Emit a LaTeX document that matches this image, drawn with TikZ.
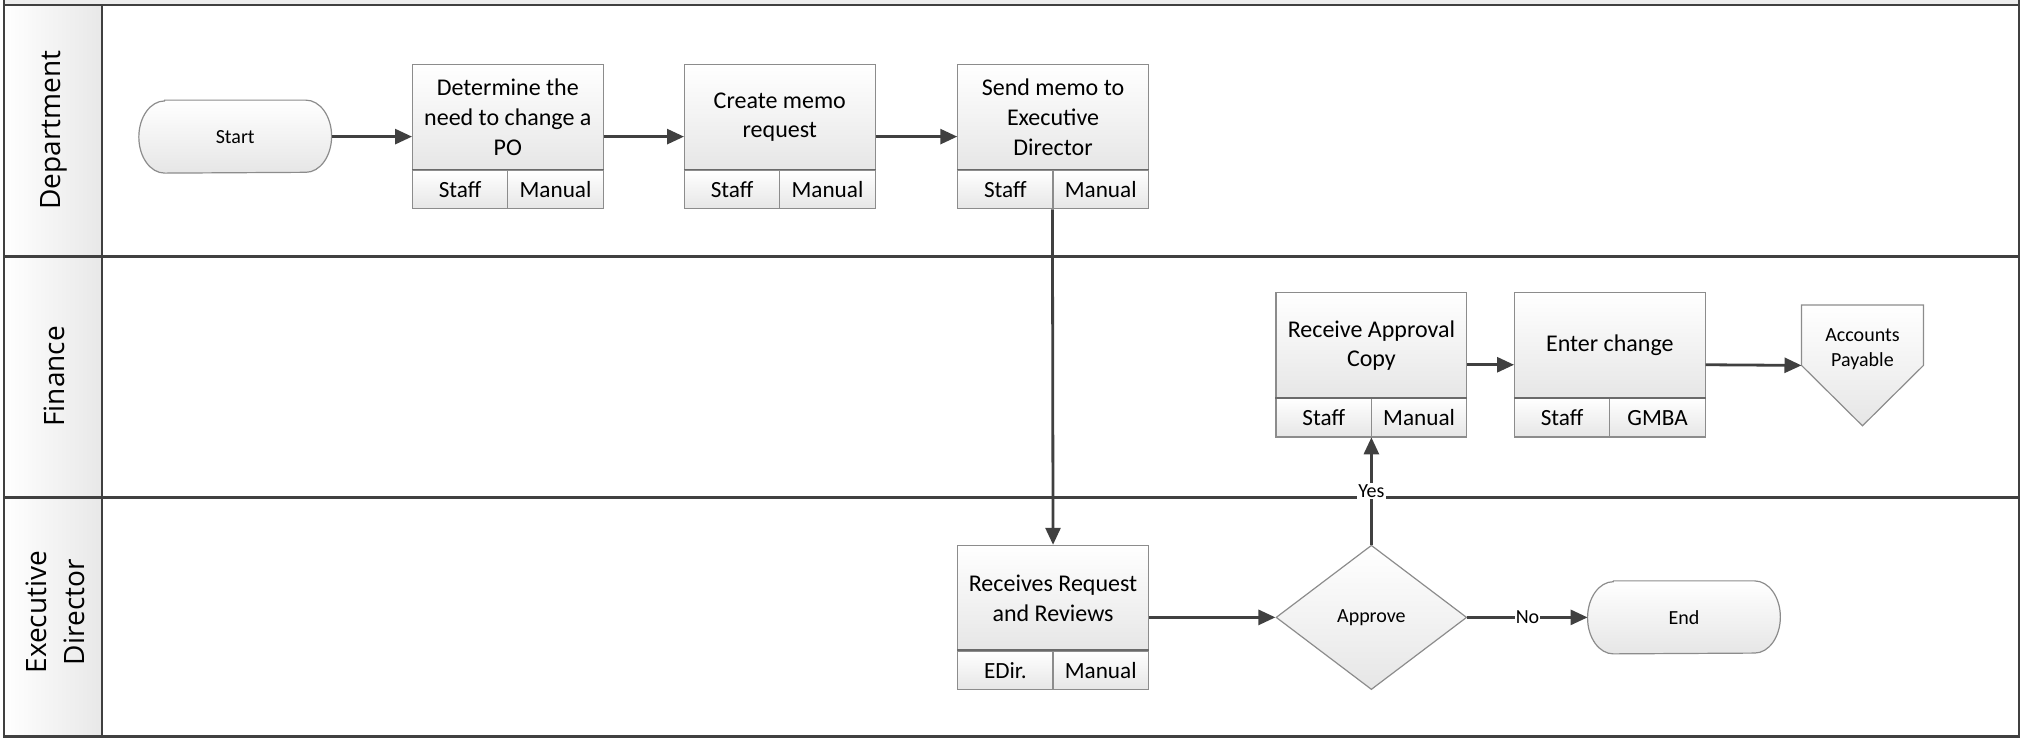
\documentclass[tikz,border=0pt]{standalone}
\usepackage{fontspec}
\setmainfont{Carlito}
\newfontfamily\lanefont{Open Sans}
\usetikzlibrary{arrows.meta,shapes.geometric}
\definecolor{lanec}{HTML}{404040}
\definecolor{boxc}{HTML}{8C8C8C}
\definecolor{divc}{HTML}{6A6A6A}
\definecolor{arrc}{HTML}{404040}
\definecolor{boxbot}{HTML}{E6E6E6}
\definecolor{hdrr}{HTML}{E8E8E8}
\pgfdeclarelayer{bg}
\pgfsetlayers{bg,main}
\tikzset{
  lane/.style={draw=lanec,line width=1.3pt},
  hdr/.style={left color=white,right color=hdrr},
  lanelabel/.style={rotate=90,font=\lanefont\fontsize{14}{18.7}\selectfont,text=black,align=center},
  proc/.style={rectangle,draw=boxc,line width=0.6pt,top color=white,bottom color=boxbot,
    minimum width=95.4pt,minimum height=52.85pt,inner sep=0pt,align=center,
    font=\fontsize{12}{14.8}\selectfont},
  cell/.style={rectangle,draw=boxc,line width=0.6pt,top color=white,bottom color=boxbot,
    minimum width=47.7pt,minimum height=19.3pt,inner sep=0pt,
    font=\fontsize{11.6}{14}\selectfont},
  outer/.style={rectangle,minimum width=95.4pt,minimum height=72.2pt,inner sep=0pt},
  term/.style={rectangle,minimum width=96pt,minimum height=36.1pt,inner sep=0pt,
    font=\fontsize{10}{12}\selectfont},
  termshape/.style={draw=boxc,line width=0.6pt,top color=white,bottom color=boxbot},
  decision/.style={diamond,draw=boxc,line width=0.6pt,top color=white,bottom color=boxbot,
    minimum width=95.4pt,minimum height=72.2pt,inner sep=0pt,font=\fontsize{10}{12}\selectfont},
  offpage/.style={rectangle,minimum width=60.6pt,minimum height=60pt,inner sep=0pt},
  smalltext/.style={font=\fontsize{10}{12.2}\selectfont,align=center,inner sep=0pt},
  divline/.style={draw=divc,line width=0.9pt},
  arr/.style={draw=arrc,line width=1.4pt,-{Triangle[length=8.5pt,width=7.5pt]}},
  lbl/.style={fill=white,inner sep=0.6pt,font=\fontsize{10}{12}\selectfont},
}
\begin{document}
\begin{tikzpicture}[x=0.6445pt,y=0.6445pt]
\useasboundingbox (0,0) rectangle (1568,573);
% pool header strip
\fill[black!7] (3,569) rectangle (1566,573);
% lane header column fills
\shade[hdr] (3,374) rectangle (79,569);
\shade[hdr] (3,187) rectangle (79,374);
\shade[hdr] (3,2) rectangle (79,187);
% lanes
\draw[lane] (3,573) -- (3,1.5) -- (1566.5,1.5) -- (1566.5,573);
\draw[lane] (3,569) -- (1566.5,569);
\draw[lane] (3,374) -- (1566.5,374);
\draw[lane] (3,187) -- (1566.5,187);
\draw[lane] (79,569) -- (79,1.5);
\node[lanelabel] (lDep) at (42,472) {Department};
\node[lanelabel] (lFin) at (42,281) {Finance};
\node[lanelabel] (lExe) at (43,98) {Executive\\Director};

% Start
\node[term] (start) at (182.5,467) {Start};
% Process box 1
\node[outer] (b1) at (394,467) {};
\node[proc] (b1t) at (394,482) {Determine the\\need to change a\\PO};
\node[cell] (b1a) at (357,426) {Staff};
\node[cell] (b1b) at (431,426) {Manual};
\draw[divline] (b1a.north west) -- (b1b.north east);
% Process box 2
\node[outer] (b2) at (605,467) {};
\node[proc] (b2t) at (605,482) {Create memo\\request};
\node[cell] (b2a) at (568,426) {Staff};
\node[cell] (b2b) at (642,426) {Manual};
\draw[divline] (b2a.north west) -- (b2b.north east);
% Process box 3
\node[outer] (b3) at (817,467) {};
\node[proc] (b3t) at (817,482) {Send memo to\\Executive\\Director};
\node[cell] (b3a) at (780,426) {Staff};
\node[cell] (b3b) at (854,426) {Manual};
\draw[divline] (b3a.north west) -- (b3b.north east);
% Process box 4
\node[outer] (b4) at (817,94) {};
\node[proc] (b4t) at (817,109) {Receives Request\\and Reviews};
\node[cell] (b4a) at (780,53) {EDir.};
\node[cell] (b4b) at (854,53) {Manual};
\draw[divline] (b4a.north west) -- (b4b.north east);
% Decision
\node[decision] (dia) at (1064,94) {Approve};
% End
\node[term] (end) at (1306.5,94) {End};
% Process box 5
\node[outer] (b5) at (1064,290) {};
\node[proc] (b5t) at (1064,305) {Receive Approval\\Copy};
\node[cell] (b5a) at (1027,249) {Staff};
\node[cell] (b5b) at (1101,249) {Manual};
\draw[divline] (b5a.north west) -- (b5b.north east);
% Process box 6
\node[outer] (b6) at (1249,290) {};
\node[proc] (b6t) at (1249,305) {Enter change};
\node[cell] (b6a) at (1212,249) {Staff};
\node[cell] (b6b) at (1286,249) {GMBA};
\draw[divline] (b6a.north west) -- (b6b.north east);
% Off-page connector
\node[offpage] (ap) at (1445,289.5) {};
\node[smalltext] (aptext) at (1445,302) {Accounts\\Payable};

% shapes drawn behind
\begin{pgfonlayer}{bg}
\shade[termshape] ([xshift=12.9pt]start.north west) -- ([xshift=-12.9pt]start.north east)
  arc[start angle=90,end angle=-90,x radius=12.9pt,y radius=18.05pt]
  -- ([xshift=12.9pt]start.south west)
  arc[start angle=270,end angle=90,x radius=12.9pt,y radius=18.05pt] -- cycle;
\shade[termshape] ([xshift=12.9pt]end.north west) -- ([xshift=-12.9pt]end.north east)
  arc[start angle=90,end angle=-90,x radius=12.9pt,y radius=18.05pt]
  -- ([xshift=12.9pt]end.south west)
  arc[start angle=270,end angle=90,x radius=12.9pt,y radius=18.05pt] -- cycle;
\shade[termshape] (ap.north west) -- (ap.north east) -- (ap.east) -- (ap.south) -- (ap.west) -- cycle;
\end{pgfonlayer}

% connectors
\draw[arr] (start) -- (b1);
\draw[arr] (b1) -- (b2);
\draw[arr] (b2) -- (b3);
\draw[arr] (b3b.south west) -- (b4.north);
\draw[arr] (b4.east) -- (dia.west);
\draw[arr] (dia.east) -- node[lbl] (nolbl) {No} (end.west);
\draw[arr] (dia.north) -- node[lbl] (yeslbl) {Yes} (b5.south);
\draw[arr] (b5) -- (b6);
\draw[arr] (b6.east) -- (ap.west);
\end{tikzpicture}
\end{document}
